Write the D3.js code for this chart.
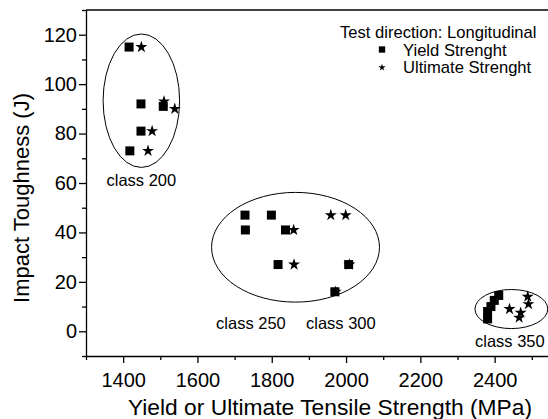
<!DOCTYPE html>
<html>
<head>
<meta charset="utf-8">
<script src="https://cdn.jsdelivr.net/npm/d3@7"></script>
<style>
  body { margin: 0; background: #fff; }
</style>
</head>
<body>
<div id="chart"></div>
<script>
// yield strength points (MPa, J)
const yieldStrength = [1416, 1448, 1508, 1448, 1418, 1728, 1799, 1729, 1837, 1817, 2007, 1970, 2411, 2399, 2390, 2381, 2381];
const yieldToughness = [115, 92, 91, 81, 73, 47, 47, 41, 41, 27, 27, 16, 14.5, 12.5, 10, 8, 5];

// ultimate strength points
const ultimateStrength = [1449, 1510, 1539, 1478, 1467, 1859, 1860, 1959, 1999, 2009, 1972, 2440, 2466, 2470, 2489, 2491];
const ultimateToughness = [115, 93, 90, 81, 73, 41, 27, 47, 47, 27, 16, 9, 5.5, 7.5, 14, 11];

// class groupings drawn as ellipses
const classNames = ["class 200", "class 250", "class 300", "class 350"];
const ellipseCx = [1449, 1864, 2445];
const ellipseCy = [93.3, 34, 9];
const ellipseRx = [103, 226, 98];
const ellipseRy = [27, 22.2, 7.9];
const labelX = [1449, 1744, 1986, 2441];
const labelY = [61, 3.2, 3.2, -4];

const xMajor = [1400, 1600, 1800, 2000, 2200, 2400];
const xMinor = [1300, 1500, 1700, 1900, 2100, 2300, 2500];
const yMajor = [0, 20, 40, 60, 80, 100, 120];
const yMinor = [-10, 10, 30, 50, 70, 90, 110, 130];

const width = 548, height = 419;

const x = d3.scaleLinear()
    .domain([1300, 2550])
    .range([86, 86 + 1250 * 0.3715]);

const y = d3.scaleLinear()
    .domain([-10, 130])
    .range([356, 10]);

const svg = d3.select("#chart")
    .append("svg")
    .attr("width", width)
    .attr("height", height)
    .attr("font-family", "'Liberation Sans', Arial, sans-serif");

// top frame line
svg.append("line")
    .attr("x1", x(1300)).attr("x2", width)
    .attr("y1", y(130)).attr("y2", y(130))
    .attr("stroke", "#000")
    .attr("stroke-width", 1.3);

// axes
svg.append("g")
    .attr("transform", `translate(0,${y(-10)})`)
    .call(d3.axisBottom(x).tickValues(xMajor).tickFormat(d3.format("d")).tickSize(7).tickPadding(10).tickSizeOuter(0));

svg.append("g")
    .attr("transform", `translate(0,${y(-10)})`)
    .call(d3.axisBottom(x).tickValues(xMinor).tickSize(4).tickFormat("").tickSizeOuter(0))
    .select(".domain").remove();

svg.append("g")
    .attr("transform", `translate(${x(1300)},0)`)
    .call(d3.axisLeft(y).tickValues(yMajor).tickFormat(d3.format("d")).tickSize(7).tickPadding(2).tickSizeOuter(0));

svg.append("g")
    .attr("transform", `translate(${x(1300)},0)`)
    .call(d3.axisLeft(y).tickValues(yMinor).tickSize(4).tickFormat("").tickSizeOuter(0))
    .select(".domain").remove();

svg.selectAll(".domain, .tick line")
    .attr("stroke", "#000")
    .attr("stroke-width", 1.3);

svg.selectAll(".tick text")
    .attr("font-size", 20)
    .attr("font-family", "'Liberation Sans', Arial, sans-serif")
    .attr("fill", "#000");

// axis titles
svg.append("text")
    .attr("x", 330)
    .attr("y", 415)
    .attr("text-anchor", "middle")
    .attr("font-size", 22.8)
    .text("Yield or Ultimate Tensile Strength (MPa)");

svg.append("text")
    .attr("transform", "translate(29,198) rotate(-90)")
    .attr("text-anchor", "middle")
    .attr("font-size", 22)
    .text("Impact Toughness (J)");

// ellipses
svg.selectAll("ellipse")
    .data(ellipseCx)
    .join("ellipse")
        .attr("cx", d => x(d))
        .attr("cy", (d, i) => y(ellipseCy[i]))
        .attr("rx", (d, i) => x(d + ellipseRx[i]) - x(d))
        .attr("ry", (d, i) => y(ellipseCy[i] - ellipseRy[i]) - y(ellipseCy[i]))
        .attr("fill", "none")
        .attr("stroke", "#000")
        .attr("stroke-width", 1);

// class labels
svg.selectAll("text.cls")
    .data(classNames)
    .join("text")
        .attr("class", "cls")
        .attr("x", (d, i) => x(labelX[i]))
        .attr("y", (d, i) => y(labelY[i]))
        .attr("dy", "0.35em")
        .attr("text-anchor", "middle")
        .attr("font-size", 16.5)
        .text(d => d);

const square = d3.symbol().type(d3.symbolSquare).size(81);
const star = d3.symbol().type(d3.symbolStar).size(45);

svg.selectAll("path.yield")
    .data(yieldStrength)
    .join("path")
        .attr("class", "yield")
        .attr("d", square)
        .attr("transform", (d, i) => `translate(${x(d)},${y(yieldToughness[i])})`)
        .attr("fill", "#000");

svg.selectAll("path.ult")
    .data(ultimateStrength)
    .join("path")
        .attr("class", "ult")
        .attr("d", star)
        .attr("transform", (d, i) => `translate(${x(d)},${y(ultimateToughness[i])})`)
        .attr("fill", "#000");

// legend
const legend = svg.append("g").attr("font-size", 16.6);

legend.append("text")
    .attr("x", 340)
    .attr("y", 38)
    .text("Test direction: Longitudinal");

legend.append("path")
    .attr("d", d3.symbol().type(d3.symbolSquare).size(40))
    .attr("transform", "translate(382,49.5)");

legend.append("text")
    .attr("x", 403)
    .attr("y", 55.5)
    .text("Yield Strenght");

legend.append("path")
    .attr("d", d3.symbol().type(d3.symbolStar).size(16))
    .attr("transform", "translate(382,67.5)");

legend.append("text")
    .attr("x", 403)
    .attr("y", 73)
    .text("Ultimate Strenght");
</script>
</body>
</html>
